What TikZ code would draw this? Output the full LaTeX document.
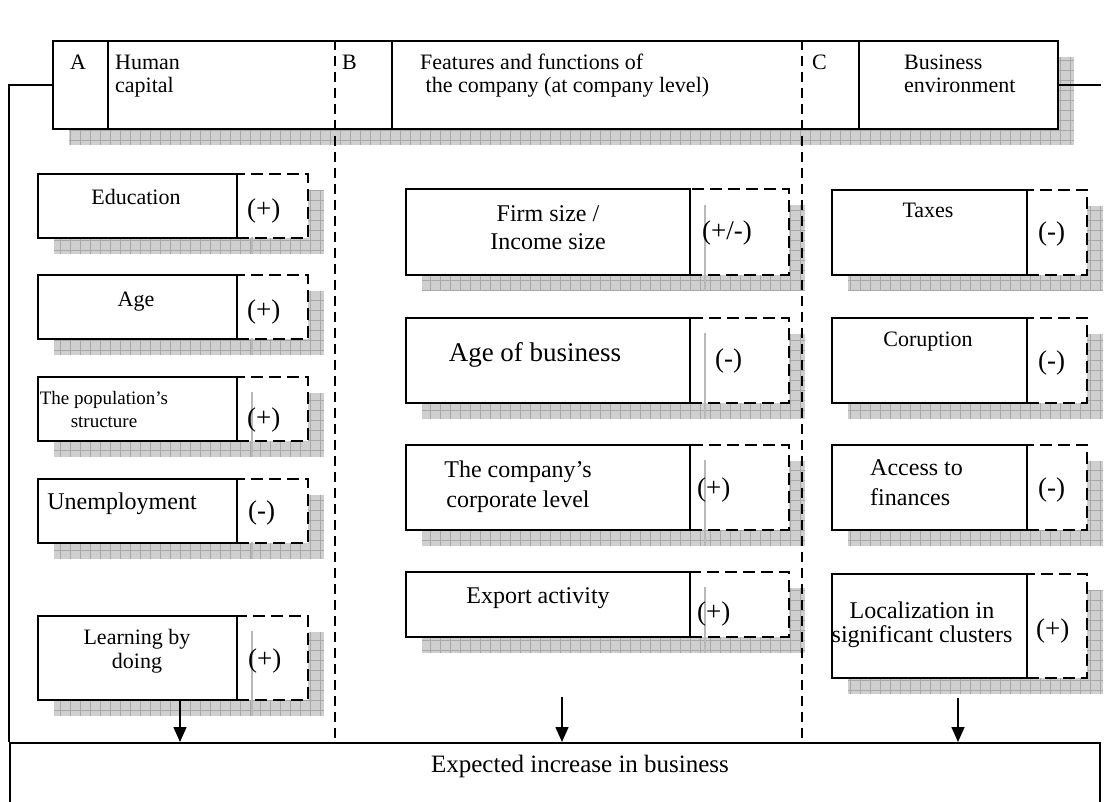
\documentclass[tikz,border=0pt]{standalone}
\usepackage{fontspec}
\setmainfont{Liberation Serif}
\usetikzlibrary{arrows.meta}
\newcommand\myfs[2]{\fontsize{#1}{#2}\selectfont}
\tikzset{
  shadowfill/.style={fill=gray!38},
  shadowgrid/.style={draw=gray!68, line width=0.5pt},
  solidbox/.style={draw, line width=1.6pt, fill=white, inner sep=0pt, anchor=north west},
  dashbox/.style={draw, line width=1.6pt, dash pattern=on 12pt off 6pt, fill=white, inner sep=0pt, anchor=north west},
  secline/.style={line width=1.5pt, dash pattern=on 10pt off 6pt},
  frame/.style={line width=1.6pt},
  txt/.style={inner sep=0pt, anchor=base, align=center, font=\myfs{22}{24}},
  txtl/.style={inner sep=0pt, anchor=base west, align=left, font=\myfs{22}{23}},
  bigtxt/.style={inner sep=0pt, anchor=base, align=center, font=\myfs{24}{28}},
  sign/.style={inner sep=0pt, anchor=base west, font=\myfs{27}{27}},
  arr/.style={line width=1.6pt, -{Triangle[length=15pt,width=13pt]}},
  artifact/.style={draw=gray!55, line width=1.5pt},
}
\newcommand\hatchshadow[4]{%
  \begin{scope}
    \clip (#1,#2) rectangle (#3,#4);
    \fill[shadowfill] (#1,#2) rectangle (#3,#4);
    \draw[shadowgrid] (#1,#2) grid[step=10pt] (#3,#4);
  \end{scope}}
% name, x, y, h, wsolid, wdash
\newcommand\factor[6]{%
  \hatchshadow{#2+17}{#3+17}{#2+#5+#6+17}{#3+#4+17}
  \node[dashbox, minimum width=#6pt, minimum height=#4pt] (#1d) at (#2+#5,#3) {};
  \node[solidbox, minimum width=#5pt, minimum height=#4pt] (#1) at (#2,#3) {};}
\begin{document}
\begin{tikzpicture}[x=1pt,y=-1pt]
\useasboundingbox (0,0) rectangle (1104,802);
\clip (0,0) rectangle (1104,802);
\fill[white] (0,0) rectangle (1104,802);

% header
\hatchshadow{69}{57}{1074}{145}
\node[solidbox, minimum width=1005pt, minimum height=88pt] (head) at (52,40) {};
\draw[frame] (108,40) -- (108,128);
\draw[frame] (392,40) -- (392,128);
\draw[frame] (859,40) -- (859,128);
\node[txtl] (hA) at (70,70) {A};
\node[txtl] (hAt) at (115,93) {Human\\capital};
\node[txtl] (hB) at (342,70) {B};
\node[txtl] (hBt) at (420,93) {Features and functions of\\\ the company (at company level)};
\node[txtl] (hC) at (812,70) {C};
\node[txtl] (hCt) at (904,93) {Business\\environment};

% result box
\node[solidbox, minimum width=1090pt, minimum height=90pt] (res) at (9,742) {};
\node[inner sep=0pt, anchor=base, font=\myfs{25}{25}] (restxt) at (580,772) {Expected increase in business};

% frame lines
\draw[frame] (head.west) -- (head.west -| res.west) -- (res.north west);
\draw[frame] (head.east) -- (head.east -| res.east);

% column A
\factor{edu}{37}{173}{64}{199}{71}
\factor{age}{37}{274}{64}{199}{71}
\factor{pop}{37}{376}{64}{199}{71}
\factor{une}{37}{478}{64}{199}{71}
\factor{lea}{37}{615}{84}{199}{71}
\draw[artifact] (252,237) -- (252,254);
\draw[artifact] (252,338) -- (252,355);
\draw[artifact] (252,392) -- (252,457);
\draw[artifact] (252,542) -- (252,559);
\draw[artifact] (252,631) -- (252,716);
\node[txt] (edut) at (136,205) {Education};
\node[sign] (edus) at (247,218) {(+)};
\node[txt] (aget) at (136,307) {Age};
\node[sign] (ages) at (247,319) {(+)};
\node[inner sep=0pt, anchor=base, align=center, font=\myfs{19}{23}] (popt) at (104,428) {The population's\\structure};
\node[sign] (pops) at (247,427) {(+)};
\node[inner sep=0pt, anchor=base, font=\myfs{24}{24}] (unet) at (122,509) {Unemployment};
\node[sign] (unes) at (248,519) {(-)};
\node[txt] (leat) at (137,668) {Learning by\\doing};
\node[sign] (leas) at (248,667) {(+)};

% column B
\factor{firm}{405}{188}{86}{284}{99}
\factor{ageb}{405}{317}{85}{284}{99}
\factor{corp}{405}{444}{85}{284}{99}
\factor{expo}{405}{571}{65}{284}{99}
\draw[artifact] (705,205) -- (705,291);
\draw[artifact] (705,333) -- (705,419);
\draw[artifact] (705,460) -- (705,546);
\draw[artifact] (705,587) -- (705,653);
\node[bigtxt] (firmt) at (548,250) {Firm size /\\Income size};
\node[sign] (firms) at (702,240) {(+/-)};
\node[inner sep=0pt, anchor=base, font=\myfs{27}{27}] (agebt) at (535,362) {Age of business};
\node[sign] (agebs) at (715,368) {(-)};
\node[inner sep=0pt, anchor=base, align=center, font=\myfs{24}{30}] (corpt) at (518,507) {The company's\\corporate level};
\node[sign] (corps) at (697,496) {(+)};
\node[inner sep=0pt, anchor=base, font=\myfs{24}{24}] (expot) at (538,603) {Export activity};
\node[sign] (expos) at (697,620) {(+)};

% column C
\factor{tax}{831}{189}{85}{195}{60}
\factor{cor}{831}{317}{85}{195}{60}
\factor{acc}{831}{444}{85}{195}{60}
\factor{loc}{831}{573}{104}{195}{60}
\node[txt] (taxt) at (928,218) {Taxes};
\node[sign] (taxs) at (1038,241) {(-)};
\node[txt] (cort) at (928,347) {Coruption};
\node[sign] (cors) at (1038,370) {(-)};
\node[inner sep=0pt, anchor=base west, align=left, font=\myfs{24}{30}] (acct) at (870,505) {Access to\\finances};
\node[sign] (accs) at (1038,496) {(-)};
\node[inner sep=0pt, anchor=base, align=center, font=\myfs{24}{24}] (loct) at (922,642) {Localization in\\significant clusters};
\node[sign] (locs) at (1036,637) {(+)};

% section dashed lines
\coordinate (s1) at (335,40);
\coordinate (s2) at (802,40);
\draw[secline] (s1) -- (s1 |- res.north);
\draw[secline] (s2) -- (s2 |- res.north);

% arrows
\coordinate (aA) at (180,699);
\coordinate (aB) at (562,697);
\coordinate (aC) at (958,698);
\draw[arr] (aA) -- (aA |- res.north);
\draw[arr] (aB) -- (aB |- res.north);
\draw[arr] (aC) -- (aC |- res.north);
\end{tikzpicture}
\end{document}
